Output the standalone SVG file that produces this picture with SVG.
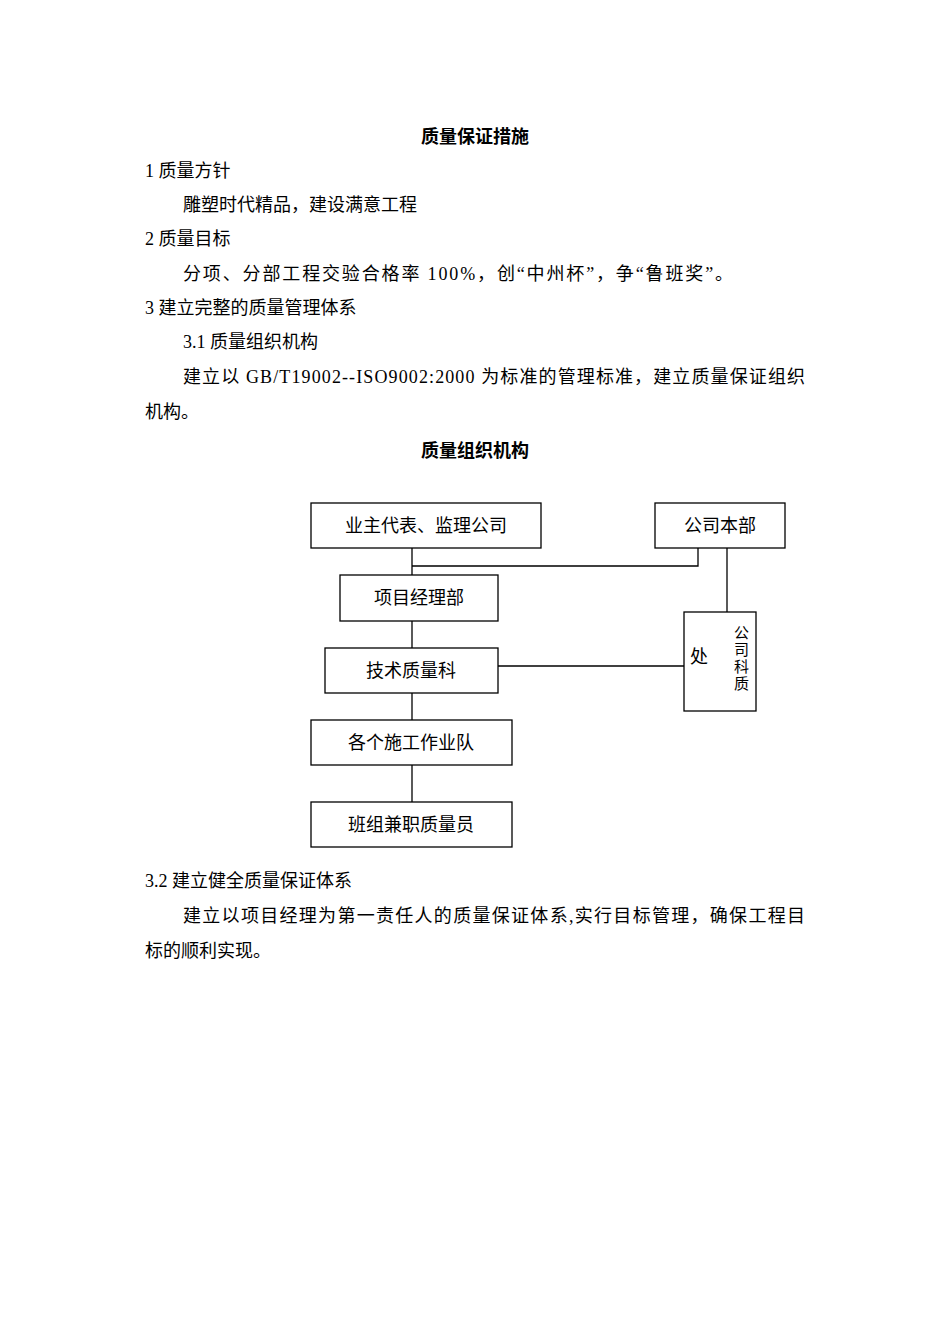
<svg xmlns="http://www.w3.org/2000/svg" width="950" height="1344" viewBox="0 0 950 1344">
<style>
text{font-family:"Liberation Serif","Noto Sans CJK SC",serif;font-size:18px;fill:#000}
.b{font-weight:bold;text-anchor:middle}
.c{text-anchor:middle}
.v{font-size:15px}
.n{fill:#fff;stroke:#000;stroke-width:1.3}
line,polyline{stroke:#000;stroke-width:1.3;fill:none}
</style>
<rect x="0" y="0" width="950" height="1344" fill="#fff"/>
<text class="b" x="475" y="143">质量保证措施</text>
<text x="145" y="177">1 质量方针</text>
<text x="183" y="211">雕塑时代精品，建设满意工程</text>
<text x="145" y="245">2 质量目标</text>
<text x="183" y="280" textLength="550">分项、分部工程交验合格率 100%，创“中州杯”，争“鲁班奖”。</text>
<text x="145" y="314">3 建立完整的质量管理体系</text>
<text x="183" y="348">3.1 质量组织机构</text>
<text x="183" y="383" textLength="622">建立以 GB/T19002--ISO9002:2000 为标准的管理标准，建立质量保证组织</text>
<text x="145" y="418">机构。</text>
<text class="b" x="475" y="457">质量组织机构</text>
<g id="connectors">
<line x1="412" y1="548" x2="412" y2="575"/>
<polyline points="412,566 698,566 698,548"/>
<line x1="727" y1="548" x2="727" y2="612"/>
<line x1="412" y1="621" x2="412" y2="648"/>
<line x1="498" y1="666" x2="684" y2="666"/>
<line x1="412" y1="693" x2="412" y2="720"/>
<line x1="412" y1="765" x2="412" y2="802"/>
</g>
<g id="n1"><rect class="n" x="311" y="503" width="230" height="45"/><text class="c" x="426" y="532">业主代表、监理公司</text></g>
<g id="n2"><rect class="n" x="655" y="503" width="130" height="45"/><text class="c" x="720" y="532">公司本部</text></g>
<g id="n3"><rect class="n" x="340" y="575" width="158" height="46"/><text class="c" x="419" y="604">项目经理部</text></g>
<g id="n4"><rect class="n" x="325" y="648" width="173" height="45"/><text class="c" x="411" y="677">技术质量科</text></g>
<g id="n5"><rect class="n" x="684" y="612" width="72" height="99"/><text x="690" y="663">处</text><text class="v" x="734" y="638">公</text><text class="v" x="734" y="655">司</text><text class="v" x="734" y="672">科</text><text class="v" x="734" y="689">质</text></g>
<g id="n6"><rect class="n" x="311" y="720" width="201" height="45"/><text class="c" x="411" y="749">各个施工作业队</text></g>
<g id="n7"><rect class="n" x="311" y="802" width="201" height="45"/><text class="c" x="411" y="831">班组兼职质量员</text></g>
<text x="145" y="887">3.2 建立健全质量保证体系</text>
<text x="183" y="922" textLength="622">建立以项目经理为第一责任人的质量保证体系,实行目标管理，确保工程目</text>
<text x="145" y="957">标的顺利实现。</text>
</svg>
